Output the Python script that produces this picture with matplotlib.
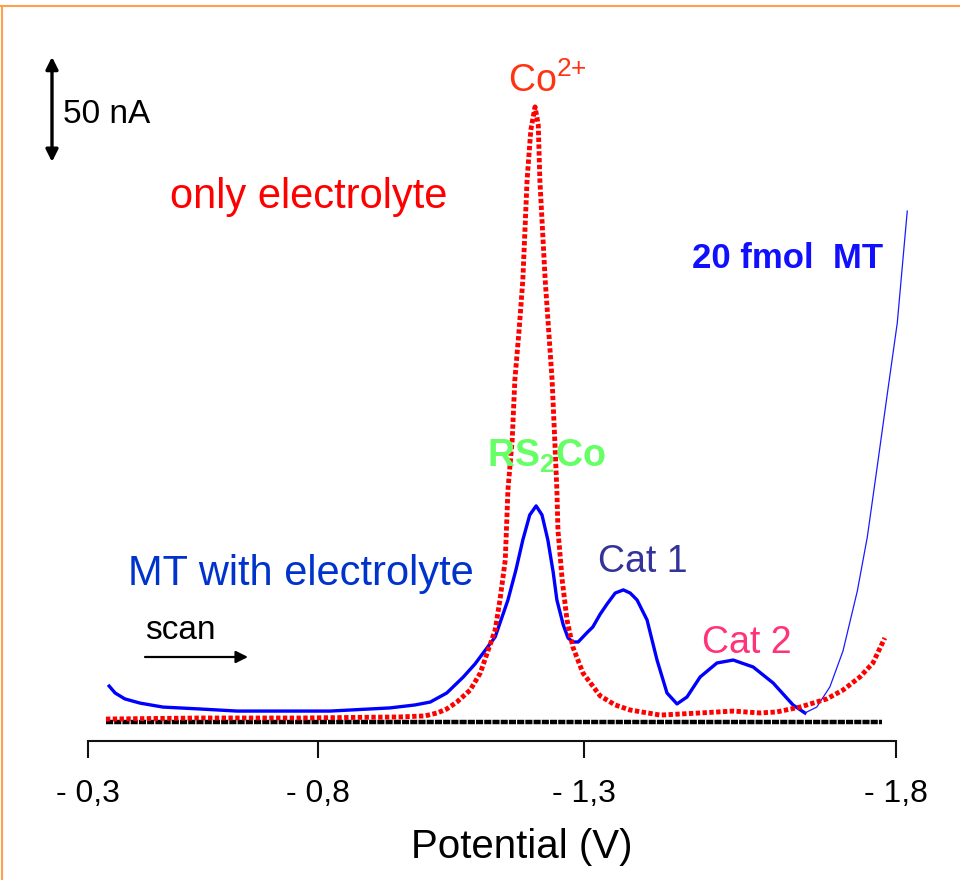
import matplotlib
matplotlib.use('Agg')
import matplotlib.pyplot as plt
import numpy as np

plt.rcParams['font.family'] = ['Liberation Sans', 'DejaVu Sans']
plt.rcParams['mathtext.fontset'] = 'custom'
plt.rcParams['mathtext.rm'] = 'Liberation Sans'
plt.rcParams['mathtext.it'] = 'Liberation Sans:italic'
plt.rcParams['mathtext.bf'] = 'Liberation Sans:bold'

# potential (V) / current (nA)
mt_E = [-0.346, -0.359, -0.380, -0.413, -0.463, -0.543, -0.624, -0.823, -0.935, -0.982,
        -1.011, -1.042, -1.073, -1.095, -1.105, -1.133, -1.157, -1.172, -1.185, -1.198,
        -1.210, -1.221, -1.232, -1.242, -1.249, -1.261, -1.270, -1.279, -1.289, -1.306,
        -1.314, -1.326, -1.337, -1.350, -1.363, -1.374, -1.385, -1.401, -1.417, -1.433,
        -1.449, -1.465, -1.486, -1.513, -1.539, -1.571, -1.603, -1.635, -1.654]
mt_I = [17.1, 13.8, 11.0, 9.0, 7.1, 6.2, 5.2, 5.2, 6.7, 8.1,
        9.5, 13.8, 21.4, 27.6, 31.0, 40.5, 58.1, 72.4, 86.7, 98.6,
        102.9, 98.6, 86.7, 71.4, 58.1, 46.2, 40.0, 38.1, 38.1, 42.9,
        45.2, 51.4, 56.2, 61.4, 62.9, 61.4, 58.1, 48.6, 29.5, 13.8,
        8.6, 11.9, 21.4, 28.1, 29.5, 26.2, 18.6, 8.1, 4.3]

# thin part after the last minimum
mt_tail_E = [-1.654, -1.673, -1.694, -1.715, -1.738, -1.754, -1.770, -1.786, -1.802, -1.811, -1.818]
mt_tail_I = [4.3, 7.1, 16.7, 33.8, 62.4, 88.1, 121.9, 156.2, 190.0, 220.0, 243.3]

el_E = [-0.339, -0.543, -0.761, -0.954, -1.001, -1.024, -1.042, -1.061, -1.086, -1.105,
        -1.120, -1.133, -1.142, -1.152, -1.157, -1.165, -1.170, -1.178, -1.185, -1.193,
        -1.200, -1.208, -1.214, -1.217, -1.227, -1.240, -1.245, -1.249, -1.251, -1.259,
        -1.268, -1.279, -1.298, -1.326, -1.350, -1.374, -1.422, -1.486, -1.539, -1.582,
        -1.609, -1.646, -1.689, -1.715, -1.742, -1.763, -1.782]
el_I = [1.4, 1.9, 1.9, 2.4, 2.9, 4.3, 6.2, 9.5, 15.2, 23.3,
        34.3, 43.8, 58.1, 77.1, 110.5, 134.3, 162.9, 186.7, 210.5, 258.1,
        281.9, 292.9, 284.3, 258.1, 210.5, 162.9, 134.3, 110.5, 91.4, 67.6,
        48.6, 35.7, 23.3, 12.4, 8.1, 5.7, 3.3, 4.3, 5.2, 4.3,
        4.8, 7.1, 11.0, 15.2, 21.4, 28.1, 40.0]

base_E = [-0.339, -1.778]
base_I = [0, 0]

tick_V = [-0.3, -0.8, -1.3, -1.8]
tick_labels = ['- 0,3', '- 0,8', '- 1,3', '- 1,8']

scale_nA = 50
scale_E = -0.2217
scale_bottom = 266.7

# the original axis isn't evenly spaced -> piecewise linear scale
knot_V = np.array([-2.3, -1.8, -1.3, -0.8, -0.3, 0.0])
knot_u = np.array([-1120.0, -808.0, -496.0, -230.0, 0.0, 138.0])


def fwd(E):
    return np.interp(np.asarray(E, dtype=float), knot_V, knot_u)


def inv(u):
    return np.interp(np.asarray(u, dtype=float), knot_u, knot_V)


def at(x, y):
    return x / 960, 1 - y / 880


fig = plt.figure(figsize=(9.6, 8.8), dpi=100)
ax = fig.add_axes([30 / 960, 1 - 741 / 880, 920 / 960, 711 / 880])
ax.set_xscale('function', functions=(fwd, inv))
ax.set_xlim(-0.1739, -1.8865)
ax.set_ylim(-9.05, 329.5)

ax.plot(base_E, base_I, color='black', lw=3.2, dashes=(1.6, 0.25), dash_capstyle='butt')
ax.plot(mt_E, mt_I, color='#0000ff', lw=2.4)
ax.plot(mt_tail_E, mt_tail_I, color='#1a1aff', lw=0.9)
ax.plot(el_E, el_I, color='#ff0000', lw=3.5, dashes=(0.9, 0.5), dash_capstyle='butt')

for s in ['left', 'right', 'top']:
    ax.spines[s].set_visible(False)
ax.spines['bottom'].set_bounds(-0.3, -1.8)
ax.spines['bottom'].set_linewidth(1.5)
ax.spines['bottom'].set_color('#111111')
ax.set_yticks([])
ax.set_xticks(tick_V, tick_labels)
ax.tick_params(axis='x', direction='out', length=12, width=1.5, color='#111111',
               pad=15, labelsize=23)

ax.set_xlabel('Potential (V)', fontsize=29)
ax.xaxis.set_label_coords((522 - 30) / 920, (741 - 858) / 711)
ax.xaxis.label.set_verticalalignment('baseline')

# 50 nA scale bar
ax.annotate('', xy=(scale_E, scale_bottom + scale_nA), xytext=(scale_E, scale_bottom),
            arrowprops=dict(arrowstyle='<|-|>', color='black', lw=2.4,
                            mutation_scale=18, shrinkA=0, shrinkB=0))
fig.text(*at(63, 123), '50 nA', fontsize=24, va='baseline')

# scan direction
ax.annotate('', xy=(248, 880 - 657), xytext=(145, 880 - 657),
            xycoords='figure pixels', textcoords='figure pixels',
            arrowprops=dict(arrowstyle='-|>', color='black', lw=1.6,
                            mutation_scale=18, shrinkA=0, shrinkB=0))
fig.text(*at(145, 639), 'scan', fontsize=24, va='baseline')

fig.text(*at(170, 208), 'only electrolyte', fontsize=30, color='#ff0000', va='baseline')
fig.text(*at(128, 585), 'MT with electrolyte', fontsize=30, color='#0033cc', va='baseline')
fig.text(*at(508, 92), r'Co$^{2{+}}$', fontsize=27, color='#ff3311', va='baseline')
fig.text(*at(487, 467), r'RS$_\mathbf{2}$Co', fontsize=27, fontweight='bold',
         color='#66ff66', va='baseline')
fig.text(*at(598, 572), 'Cat 1', fontsize=27, color='#333399', va='baseline')
fig.text(*at(702, 653), 'Cat 2', fontsize=27, color='#ff3377', va='baseline')
fig.text(*at(692, 268), '20 fmol  MT', fontsize=25, fontweight='bold',
         color='#1010ff', va='baseline')

# orange slide frame (top and left edge)
fig.add_artist(plt.Line2D([0, 1], [1 - 6 / 880] * 2, color='#ffa04a', lw=1.5,
                          transform=fig.transFigure))
fig.add_artist(plt.Line2D([1.5 / 960] * 2, [0, 1 - 6 / 880], color='#ffa04a', lw=1.5,
                          transform=fig.transFigure))

fig.savefig('out.png', dpi=100)
